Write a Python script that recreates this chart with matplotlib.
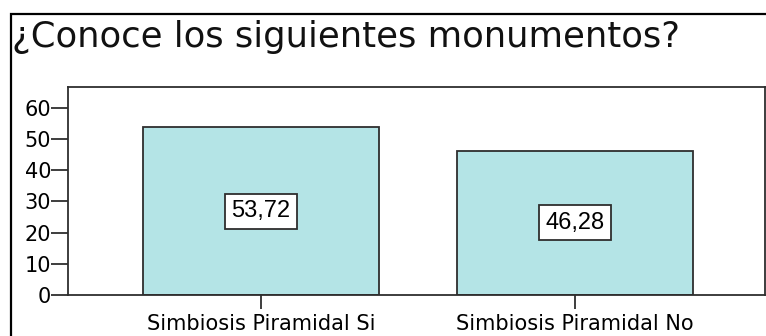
import matplotlib.pyplot as plt
from matplotlib.patches import Rectangle

plt.rcParams['font.family'] = ['DejaVu Sans']

TITLE = '¿Conoce los siguientes monumentos?'
CATEGORIES = ['Simbiosis Piramidal Si', 'Simbiosis Piramidal No']
PERCENTS = [53.72, 46.28]
Y_TICKS = [0, 10, 20, 30, 40, 50, 60]

BAR_COLOR = '#b4e4e6'
EDGE_COLOR = '#2e2e2e'

fig = plt.figure(figsize=(7.66, 3.36), dpi=100)
fig.patch.set_facecolor('white')

# outer frame around the whole chart
frame = Rectangle((11 / 766, -0.05), 1.0, 1 - 14 / 336 + 0.05, transform=fig.transFigure,
                  fill=False, edgecolor='black', linewidth=1.6, clip_on=False)
fig.patches.append(frame)

fig.text(12 / 766, 1 - 47 / 336, TITLE, fontsize=25.5, ha='left', va='baseline', color='#111111')

ax = fig.add_axes([68 / 766, 1 - 295 / 336, 697 / 766, 208 / 336])
positions = list(range(len(CATEGORIES)))
ax.bar(positions, PERCENTS, width=0.75, color=BAR_COLOR, edgecolor=EDGE_COLOR, linewidth=1.3)

# value boxes in the middle of each bar
for x, v in zip(positions, PERCENTS):
    ax.text(x, v / 2, f'{v:.2f}'.replace('.', ','), ha='center', va='center', fontsize=17,
            family='Liberation Sans',
            bbox=dict(boxstyle='square,pad=0.27', facecolor='white', edgecolor=EDGE_COLOR, linewidth=1.3))

ax.set_xlim(-0.615, 1.605)
ax.set_ylim(0, 66.7)
ax.set_yticks(Y_TICKS)
ax.set_xticks(positions)
ax.set_xticklabels(CATEGORIES)
ax.tick_params(axis='both', labelsize=15, direction='out', width=1.3, color=EDGE_COLOR)
ax.tick_params(axis='y', length=12, pad=0)
ax.tick_params(axis='x', length=10, pad=4)
for spine in ax.spines.values():
    spine.set_color(EDGE_COLOR)
    spine.set_linewidth(1.3)

fig.savefig('out.png', dpi=100)
